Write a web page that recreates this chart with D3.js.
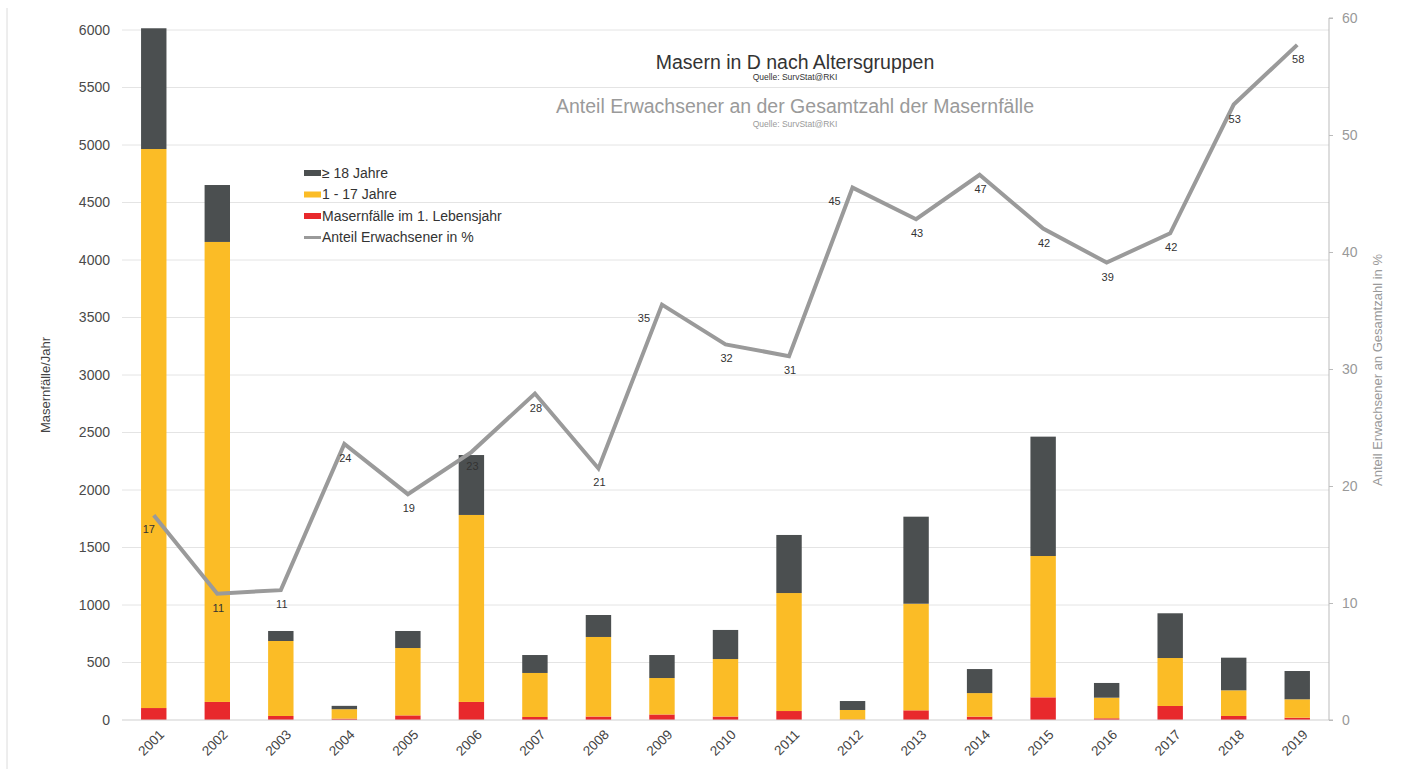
<!DOCTYPE html>
<html>
<head>
<meta charset="utf-8">
<script src="https://cdn.jsdelivr.net/npm/d3@7"></script>
<style>
  body { margin: 0; background: #fff; }
  svg { display: block; font-family: "Liberation Sans", Arial, sans-serif; }
</style>
</head>
<body>
<script>
const width = 1402;
const height = 769;

// Data
const years = ["2001","2002","2003","2004","2005","2006","2007","2008","2009","2010",
               "2011","2012","2013","2014","2015","2016","2017","2018","2019"];
const infants  = [104, 157, 35, 12, 40, 157, 26, 30, 48, 30, 78, 4, 84, 29, 197, 15, 122, 35, 20];
const children = [4861, 4000, 652, 82, 586, 1626, 383, 692, 317, 500, 1026, 83, 927, 205, 1229, 179, 417, 223, 160];
const adults   = [1050, 495, 87, 29, 148, 521, 156, 191, 200, 253, 505, 78, 757, 209, 1038, 128, 389, 284, 246];
const adultShare = [17.5, 10.8, 11.1, 23.6, 19.3, 22.9, 27.9, 21.5, 35.5, 32.1,
                    31.1, 45.5, 42.8, 46.6, 42.0, 39.1, 41.6, 52.6, 57.7];
const shareLabels = [17, 11, 11, 24, 19, 23, 28, 21, 35, 32, 31, 45, 43, 47, 42, 39, 42, 53, 58];
const leftTicks = d3.range(0, 6001, 500);
const rightTicks = d3.range(0, 61, 10);

const keys = ["infants", "children", "adults"];
const colors = { infants: "#e8292c", children: "#fbbc26", adults: "#4b4f50" };

const table = years.map((yr, i) => ({
  year: yr, infants: infants[i], children: children[i], adults: adults[i], share: adultShare[i], label: shareLabels[i]
}));

const svg = d3.select("body").append("svg")
  .attr("width", width)
  .attr("height", height);

// faint left frame edge
svg.append("line")
  .attr("x1", 7).attr("x2", 7).attr("y1", 8).attr("y2", height)
  .attr("stroke", "#dcdcdc");

const plotLeft = 122, plotRight = 1329, plotTop = 30, plotBottom = 720;

const x = d3.scaleBand().domain(years).range([plotLeft, plotRight]).paddingInner(0.6).paddingOuter(0.3);
const y = d3.scaleLinear().domain([0, 6000]).range([plotBottom, plotTop]);
const y2 = d3.scaleLinear().domain([0, 60]).range([plotBottom, 18]);

// gridlines
svg.append("g")
  .selectAll("line")
  .data(leftTicks.filter(d => d > 0))
  .join("line")
  .attr("x1", plotLeft).attr("x2", plotRight)
  .attr("y1", d => y(d)).attr("y2", d => y(d))
  .attr("stroke", "#e4e4e4").attr("stroke-width", 1);

// left axis labels
const yAxis = svg.append("g")
  .attr("transform", `translate(${plotLeft},0)`)
  .call(d3.axisLeft(y).tickValues(leftTicks).tickFormat(d3.format("d")).tickSize(0).tickPadding(12));
yAxis.select(".domain").remove();
yAxis.selectAll("text").attr("font-size", 14).attr("fill", "#4a4a4a").attr("font-family", "Liberation Sans, Arial, sans-serif");

// stacked bars
const stacked = d3.stack().keys(keys)(table);
svg.append("g")
  .selectAll("g")
  .data(stacked)
  .join("g")
  .attr("fill", d => colors[d.key])
  .selectAll("rect")
  .data(d => d)
  .join("rect")
  .attr("x", d => x(d.data.year))
  .attr("width", x.bandwidth())
  .attr("y", d => y(d[1]))
  .attr("height", d => y(d[0]) - y(d[1]));

// baseline
svg.append("line")
  .attr("x1", plotLeft).attr("x2", plotRight)
  .attr("y1", plotBottom).attr("y2", plotBottom)
  .attr("stroke", "#cfcfcf");

// x axis labels
const xAxis = svg.append("g")
  .attr("transform", `translate(0,${plotBottom})`)
  .call(d3.axisBottom(x).tickSize(0).tickPadding(0));
xAxis.select(".domain").remove();
xAxis.selectAll("text")
  .attr("font-size", 13.5).attr("fill", "#444").attr("font-family", "Liberation Sans, Arial, sans-serif")
  .attr("text-anchor", "end")
  .attr("transform", "translate(8,12) rotate(-45)")
  .attr("dy", "0.35em");

// right axis
const rAxis = svg.append("g")
  .attr("transform", `translate(${plotRight},0)`)
  .call(d3.axisRight(y2).tickValues(rightTicks).tickSize(4).tickPadding(9));
rAxis.select(".domain").attr("stroke", "#bbb").attr("d", `M4,${y2(60)}H0V${y2(0)}H4`);
rAxis.selectAll(".tick line").attr("stroke", "#bbb");
rAxis.selectAll("text").attr("font-size", 14).attr("fill", "#999").attr("font-family", "Liberation Sans, Arial, sans-serif");

// line of adult share
const cx = d => x(d.year) + x.bandwidth() / 2;
svg.append("path")
  .datum(table)
  .attr("fill", "none")
  .attr("stroke", "#9a9a9a")
  .attr("stroke-width", 4)
  .attr("stroke-linejoin", "miter")
  .attr("d", d3.line().x(cx).y(d => y2(d.share)));

const leftPlaced = new Set(["2009", "2012"]);
svg.append("g")
  .selectAll("text")
  .data(table)
  .join("text")
  .attr("x", d => leftPlaced.has(d.year) ? cx(d) - 18 : cx(d) + (d.year === "2001" ? -5 : 1))
  .attr("y", d => y2(d.share) + (leftPlaced.has(d.year) ? 17 : 18))
  .attr("text-anchor", "middle")
  .attr("font-size", 11)
  .attr("fill", "#333")
  .text(d => d.label);

// titles
svg.append("text").attr("x", 795).attr("y", 69).attr("text-anchor", "middle")
  .attr("font-size", 19.5).attr("fill", "#333").text("Masern in D nach Altersgruppen");
svg.append("text").attr("x", 795).attr("y", 80).attr("text-anchor", "middle")
  .attr("font-size", 8.5).attr("fill", "#333").text("Quelle: SurvStat@RKI");
svg.append("text").attr("x", 795).attr("y", 113).attr("text-anchor", "middle")
  .attr("font-size", 19.5).attr("fill", "#9a9a9a").text("Anteil Erwachsener an der Gesamtzahl der Masernfälle");
svg.append("text").attr("x", 795).attr("y", 127).attr("text-anchor", "middle")
  .attr("font-size", 8.5).attr("fill", "#9a9a9a").text("Quelle: SurvStat@RKI");

// axis titles
svg.append("text")
  .attr("transform", "translate(50,385) rotate(-90)")
  .attr("text-anchor", "middle").attr("font-size", 13).attr("fill", "#444")
  .text("Masernfälle/Jahr");
svg.append("text")
  .attr("transform", "translate(1382,370) rotate(-90)")
  .attr("text-anchor", "middle").attr("font-size", 13).attr("fill", "#999")
  .text("Anteil Erwachsener an Gesamtzahl in %");

// legend
const legendItems = [
  { label: "≥ 18 Jahre", color: colors.adults, type: "rect" },
  { label: "1 - 17 Jahre", color: colors.children, type: "rect" },
  { label: "Masernfälle im 1. Lebensjahr", color: colors.infants, type: "rect" },
  { label: "Anteil Erwachsener in %", color: "#9a9a9a", type: "line" }
];
const legend = svg.append("g").attr("transform", "translate(304,173)");
const li = legend.selectAll("g").data(legendItems).join("g")
  .attr("transform", (d, i) => `translate(0,${i * 21.5})`);
li.append("rect")
  .attr("x", 0).attr("width", 17)
  .attr("y", d => d.type === "rect" ? -3 : -1.5)
  .attr("height", d => d.type === "rect" ? 6 : 3)
  .attr("fill", d => d.color);
li.append("text")
  .attr("x", 18).attr("dy", "0.35em")
  .attr("font-size", 14).attr("fill", "#333")
  .text(d => d.label);
</script>
</body>
</html>
